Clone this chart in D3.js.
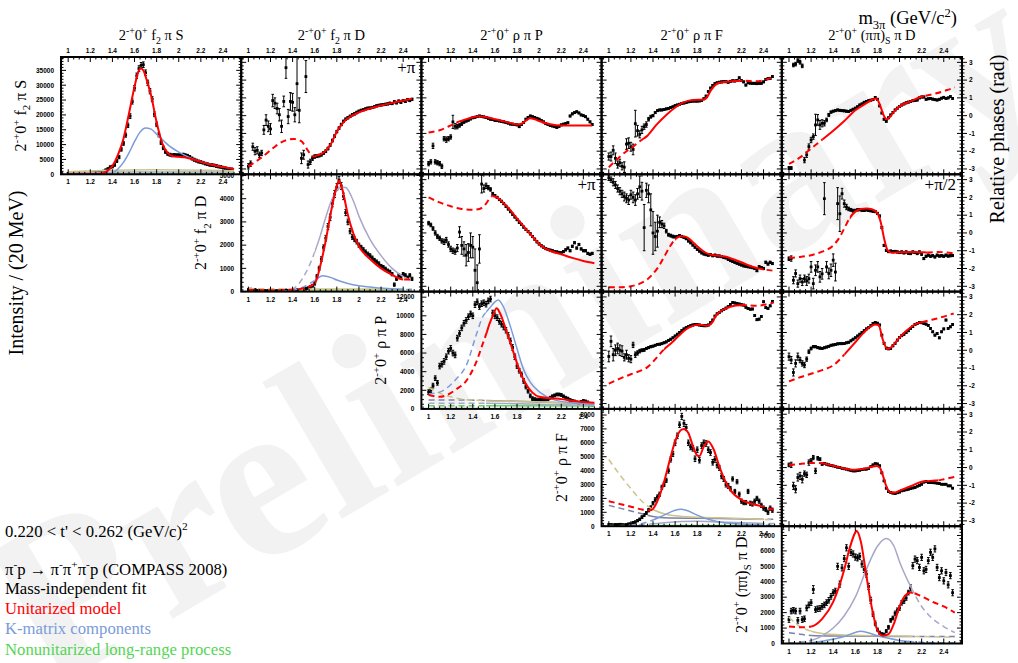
<!DOCTYPE html>
<html><head><meta charset="utf-8">
<script src="https://cdn.jsdelivr.net/npm/d3@7"></script>
<style>body{margin:0;background:#fff}svg{display:block}text{white-space:pre}</style>
</head><body><svg id="c" width="1018" height="663"></svg>
<script>
// ---------------- DATA ----------------
const mass = [1.00,1.02,1.04,1.06,1.08,1.10,1.12,1.14,1.16,1.18,1.20,1.22,1.24,1.26,1.28,1.30,1.32,1.34,1.36,1.38,1.40,1.42,1.44,1.46,1.48,1.50,1.52,1.54,1.56,1.58,1.60,1.62,1.64,1.66,1.68,1.70,1.72,1.74,1.76,1.78,1.80,1.82,1.84,1.86,1.88,1.90,1.92,1.94,1.96,1.98,2.00,2.02,2.04,2.06,2.08,2.10,2.12,2.14,2.16,2.18,2.20,2.22,2.24,2.26,2.28,2.30,2.32,2.34,2.36,2.38,2.40,2.42,2.44,2.46,2.48];
const xTickLabels = ["1","1.2","1.4","1.6","1.8","2","2.2","2.4"];
const phaseTickLabels = ["3","2","1","0","-1","-2","-3"];

// intensities
const intS = [300,400,500,400,300,300,200,200,200,300, 300,400,500,500,600,800,1000,1400,1800,2400, 2600,3200,4500,5800,8400,10400,13200,16500,19600,24500, 29000,33200,35600,36700,36900,34200,30800,28000,25300,20200, 16800,13300,10700,8900,7600,6900,6600,6400,6500,6400, 6400,6500,6600,6400,6200,5800,5300,4900,4600,4300, 4100,3900,3600,3400,3200,3100,3000,2800,2600,2500, 2300,2100,1900,1800,1700];
const errS = [300,300,300,300,300,300,300,300,300,300, 300,300,300,300,300,350,350,400,400,450, 450,500,500,550,600,650,700,750,800,850, 900,900,950,950,950,950,900,900,850,800, 750,700,650,600,550,500,500,500,500,500, 500,500,500,500,500,500,500,500,500,500, 450,450,450,450,450,450,450,450,450,450, 400,400,400,400,400];
const intFD = [80,100,60,80,50,60,40,50,30,40, 30,50,20,30,40,20,30,60,50,40, 60,50,70,60,80,100,120,150,200,250, 350,650,1000,1400,1900,2300,2800,3200,3800,4200, 4500,4800,4550,4100,3400,3000,2600,2350,2250,2150, 2000,1900,1800,1700,1620,1550,1450,1350,1280,1200, 1100,1050,980,900,850,750,300,550,700,650, 750,700,600,700,550];
const errFD = [40,40,40,40,40,40,40,40,40,40, 40,40,40,40,40,40,40,40,40,40, 40,40,40,40,40,50,50,50,60,60, 70,80,90,100,110,120,130,140,150,150, 150,150,150,140,130,120,110,100,100,100, 90,90,90,90,80,80,80,80,80,80, 70,70,70,70,70,70,70,70,70,70, 70,70,70,70,70];
const intRP = [1800,2000,2500,3300,2800,4600,4800,5100,5600,6200, 6500,6000,5800,7600,8100,8700,9200,9500,9900,10200, 10000,11200,11500,11000,11300,11400,11250,11600,11800,10300, 10000,9800,9400,9100,8800,8450,7900,7300,6600,5600, 4600,4100,3700,3000,2400,1900,1400,1100,1000,950, 950,950,1000,1020,1050,1200,1350,1450,1550,1550, 1500,1350,1200,1100,950,850,800,700,650,750, 850,800,700,500,450];
const errRP = [250,250,250,250,250,300,300,300,300,300, 300,300,300,300,300,300,300,300,300,300, 300,300,300,300,300,300,300,300,300,300, 300,300,300,300,300,300,300,300,300,300, 250,250,250,250,250,200,200,200,200,200, 150,150,150,150,150,150,150,150,150,150, 150,150,150,150,150,150,150,150,150,150, 150,150,150,150,150];
const intRF = [100,100,80,100,100,120,100,80,100,150, 150,250,300,400,500,650,800,950,1150,1350, 1650,1900,2100,2300,2800,3000,3300,4000,4800,5200, 6000,6500,7300,7900,7400,7100,6000,5700,5600,4850, 5500,4750,5800,6000,5950,5500,5300,4600,4800,4400, 4200,3600,3400,3000,2900,2700,3400,2500,3200,2300, 1800,1700,1700,2500,1650,1600,1800,2000,1800,1500, 1300,1200,1000,1300,1150];
const errRF = [80,80,80,80,80,80,80,80,80,80, 80,80,80,80,80,100,100,100,120,120, 120,150,150,150,150,150,150,180,180,180, 200,200,200,220,220,220,200,200,200,200, 200,200,200,200,200,200,200,200,200,200, 180,180,180,180,180,150,150,150,150,150, 150,150,150,150,150,150,150,150,150,150, 150,150,150,150,150];
const intPD = [1550,2100,2150,2100,1500,2100,1550,1600,2300,2500, 2650,3500,2200,2250,2270,2400,2500,2650,2800,3050, 3300,3400,5000,3850,4900,5500,6200,5000,5900,5800, 5600,5550,5650,5150,4800,4500,3700,2800,1900,1300, 900,700,600,570,800,1050,1500,1650,1950,2150, 2300,2640,2750,2950,3300,3600,5040,5470,5370,4930, 5580,4710,4800,5370,5910,5580,6130,4930,4270,4710, 4060,4600,3800,4400,3290];
const errPD = [180,180,180,180,180,180,180,180,180,180, 180,250,180,180,180,180,180,180,180,180, 180,180,200,200,200,200,200,200,200,200, 200,200,200,200,200,200,200,200,150,150, 100,100,100,100,100,120,120,120,150,150, 150,150,150,150,150,200,200,200,200,200, 200,200,200,200,200,200,200,200,200,200, 200,200,200,200,200];

// relative phases (rad)
const phS_FD = [-2.85,-2.7,-1.75,-2.0,-1.95,-2.2,-2.1,-0.8,-0.25,-0.6, -0.75,0.85,0.7,0.4,0.05,-0.6,0.8,2.7,-0.05,0.8, 0.75,0.05,1.8,0.3,-2.4,-2.2,2.2,-2.75,-2.6,-2.4, -2.3,-2.28,-2.25,-2.2,-2.1,-2.0,-1.85,-1.65,-1.4,-1.15, -0.9,-0.7,-0.5,-0.32,-0.2,-0.12,-0.04,0.05,0.1,0.18, 0.25,0.3,0.33,0.38,0.42,0.43,0.46,0.5,0.55,0.58, 0.6,0.62,0.64,0.66,0.7,0.68,0.78,0.72,0.82,0.75, 0.85,0.8,0.9,0.85,0.92];
const ephS_FD = [0.15,0.15,0.2,0.2,0.2,0.15,0.15,0.25,0.3,0.3, 0.3,0.35,0.3,0.3,0.35,0.35,0.3,0.6,0.4,0.5, 0.5,0.4,1.5,0.7,0.3,0.25,0.9,0.2,0.15,0.12, 0.1,0.08,0.08,0.08,0.08,0.08,0.08,0.08,0.08,0.08, 0.07,0.07,0.07,0.07,0.07,0.07,0.07,0.07,0.07,0.07, 0.06,0.06,0.06,0.06,0.06,0.06,0.06,0.06,0.06,0.06, 0.06,0.06,0.06,0.06,0.06,0.06,0.06,0.06,0.06,0.06, 0.06,0.06,0.06,0.06,0.06];
const phS_RP = [-2.7,-2.6,-1.7,-2.6,-2.65,-2.7,-2.85,-1.3,-1.35,-1.3, -1.2,-0.35,-0.6,-0.62,-0.55,-0.45,-0.35,-0.3,-0.25,-0.18, -0.12,-0.09,-0.05,-0.02,-0.04,-0.07,-0.1,-0.15,-0.2,-0.22, -0.26,-0.28,-0.3,-0.32,-0.35,-0.38,-0.42,-0.47,-0.48,-0.5, -0.52,-0.62,-0.5,-0.38,-0.2,-0.1,-0.02,-0.06,-0.1,-0.15, -0.2,-0.28,-0.35,-0.45,-0.5,-0.55,-0.58,-0.62,-0.66,-0.6, -0.52,-0.48,-0.45,-0.4,-0.02,0.1,0.17,0.22,0.15,0.04, 0.0,-0.06,-0.2,-0.35,-0.5];
const ephS_RP = [0.12,0.12,0.15,0.12,0.12,0.12,0.12,0.12,0.15,0.12, 0.12,0.37,0.15,0.12,0.1,0.1,0.08,0.06,0.06,0.06, 0.05,0.05,0.05,0.05,0.05,0.05,0.05,0.05,0.05,0.05, 0.05,0.05,0.05,0.05,0.05,0.05,0.05,0.05,0.05,0.05, 0.05,0.05,0.05,0.05,0.05,0.05,0.05,0.05,0.05,0.05, 0.05,0.05,0.05,0.05,0.05,0.05,0.05,0.05,0.05,0.05, 0.05,0.05,0.05,0.05,0.05,0.05,0.05,0.05,0.05,0.05, 0.05,0.05,0.05,0.05,0.05];
const phS_RF = [-2.3,-2.3,-1.95,-2.4,-2.75,-2.65,-2.85,-2.9,-1.6,-1.55, -1.75,-1.9,-0.45,-0.85,-1.05,-0.8,-0.62,-0.5,-0.2,-0.06, 0.0,0.17,0.28,0.32,0.32,0.35,0.38,0.41,0.46,0.5, 0.56,0.6,0.64,0.68,0.71,0.74,0.78,0.8,0.82,0.82, 0.82,0.83,0.86,0.95,1.1,1.35,1.55,1.7,1.8,1.85, 1.88,1.9,1.91,1.91,1.88,1.93,1.96,1.95,1.98,2.13, 1.97,1.9,1.72,1.85,1.83,1.82,1.82,1.8,1.82,1.82, 1.9,2.04,2.08,2.1,2.2];
const ephS_RF = [0.2,0.25,0.25,0.3,0.2,0.2,0.2,0.3,0.3,0.3, 0.25,0.3,0.75,0.3,0.2,0.2,0.15,0.15,0.1,0.08, 0.06,0.05,0.05,0.05,0.05,0.05,0.05,0.05,0.05,0.05, 0.05,0.05,0.05,0.05,0.05,0.05,0.05,0.05,0.05,0.05, 0.05,0.05,0.05,0.05,0.05,0.05,0.05,0.05,0.05,0.05, 0.05,0.05,0.05,0.05,0.05,0.05,0.05,0.05,0.05,0.05, 0.05,0.05,0.05,0.05,0.05,0.05,0.05,0.05,0.05,0.05, 0.05,0.05,0.05,0.05,0.05];
const phS_PD = [-2.95,-2.95,2.85,2.9,3.1,3.0,2.8,-2.5,-2.2,-1.74, -1.37,-1.18,-0.52,-0.24,-0.52,-0.43,-0.43,-0.24,0.04,0.2, 0.25,0.28,0.32,0.3,0.28,0.27,0.25,0.23,0.3,0.36, 0.42,0.5,0.6,0.66,0.75,0.8,0.84,0.87,0.9,1.02, 0.92,0.55,0.15,-0.2,-0.32,-0.12,0.04,0.18,0.32,0.42, 0.52,0.6,0.66,0.72,0.76,0.8,0.84,0.86,0.88,1.0, 1.05,1.05,0.92,0.95,0.97,0.93,0.9,0.88,0.92,0.98, 1.03,0.97,1.0,1.07,0.97];
const ephS_PD = [0.08,0.08,0.1,0.1,0.1,0.1,0.1,0.15,0.15,0.15, 0.15,0.15,0.6,0.3,0.25,0.2,0.15,0.1,0.08,0.06, 0.05,0.05,0.05,0.05,0.05,0.05,0.05,0.05,0.05,0.05, 0.05,0.05,0.05,0.05,0.05,0.05,0.05,0.05,0.05,0.05, 0.05,0.05,0.05,0.05,0.05,0.05,0.05,0.05,0.05,0.05, 0.05,0.05,0.05,0.05,0.05,0.05,0.05,0.05,0.05,0.05, 0.05,0.05,0.05,0.05,0.05,0.05,0.05,0.05,0.05,0.05, 0.05,0.05,0.05,0.05,0.05];
const phFD_RP = [0.55,0.45,0.25,0.0,-0.2,-0.3,-0.45,-0.5,-0.4,-0.65, -0.9,-1.0,-1.05,-0.85,0.05,-0.7,-0.9,-1.25,-1.1,-0.7, -0.8,-2.1,-2.8,-0.9,2.75,2.5,2.65,2.55,2.45,2.2, 2.1,2.0,1.88,1.78,1.65,1.5,1.35,1.2,1.05,0.9, 0.75,0.6,0.48,0.33,0.2,0.08,-0.05,-0.2,-0.35,-0.5, -0.62,-0.72,-0.8,-0.88,-0.93,-0.97,-1.0,-1.05,-1.07,-1.1, -1.12,-1.05,-0.95,-0.85,-1.0,-0.75,-0.55,-0.85,-0.65,-0.9, -1.0,-1.0,-1.15,-1.2,-1.15];
const ephFD_RP = [0.1,0.1,0.1,0.12,0.12,0.12,0.12,0.15,0.15,0.15, 0.15,0.15,0.15,0.2,0.3,0.5,0.4,0.6,0.5,0.7, 0.6,1.2,1.0,0.8,0.5,0.2,0.15,0.12,0.1,0.08, 0.06,0.06,0.06,0.06,0.06,0.06,0.06,0.06,0.06,0.06, 0.06,0.06,0.06,0.06,0.06,0.06,0.06,0.06,0.06,0.06, 0.06,0.06,0.06,0.06,0.06,0.06,0.06,0.06,0.06,0.06, 0.06,0.06,0.06,0.06,0.06,0.06,0.06,0.06,0.06,0.06, 0.06,0.06,0.06,0.06,0.06];
const phFD_RF = [3.1,3.0,2.85,2.7,2.5,2.35,2.2,2.05,1.95,1.85, 2.15,2.0,1.85,2.2,2.6,2.35,0.3,2.4,2.2,1.3, 0.0,-0.2,0.1,0.6,0.5,0.4,0.1,-0.1,-0.15,-0.2, -0.22,-0.2,-0.15,-0.2,-0.25,-0.32,-0.45,-0.55,-0.68,-0.8, -0.92,-1.02,-1.12,-1.18,-1.22,-1.25,-1.22,-1.28,-1.25,-1.3, -1.3,-1.33,-1.38,-1.4,-1.48,-1.55,-1.6,-1.65,-1.7,-1.75, -1.8,-1.85,-1.87,-1.9,-1.92,-1.95,-2.0,-2.12,-1.9,-1.95, -2.0,-1.65,-1.75,-1.65,-1.72];
const ephFD_RF = [0.15,0.15,0.2,0.2,0.2,0.2,0.2,0.25,0.25,0.25, 0.25,0.3,0.3,0.3,0.6,0.5,1.3,0.4,0.5,0.9, 1.2,0.8,0.9,0.3,0.2,0.15,0.1,0.08,0.08,0.08, 0.06,0.06,0.06,0.06,0.06,0.06,0.06,0.06,0.06,0.06, 0.06,0.06,0.06,0.06,0.06,0.06,0.06,0.06,0.06,0.06, 0.06,0.06,0.06,0.06,0.06,0.06,0.06,0.06,0.06,0.06, 0.06,0.06,0.06,0.06,0.06,0.06,0.06,0.06,0.06,0.06, 0.06,0.06,0.06,0.06,0.06];
const phFD_PD = [-1.45,-1.44,-2.66,-2.28,-2.85,-2.57,-2.76,-2.57,-2.7,-2.57, -1.91,-2.85,-2.1,-1.91,-2.47,-2.3,1.93,-1.91,-2.28,-2.1, -1.53,-2.2,1.65,1.08,2.21,1.65,1.46,1.35,1.3,1.25, 1.27,1.3,1.31,1.28,1.27,1.3,1.27,1.25,1.22,1.2, 1.1,0.95,0.3,-0.7,-0.98,-1.05,-1.02,-1.05,-1.04,-1.07, -1.1,-1.07,-1.12,-1.07,-1.14,-1.16,-1.07,-1.1,-1.16,-1.07, -1.2,-1.44,-1.31,-1.25,-1.31,-1.28,-1.35,-1.25,-1.3,-1.28, -1.31,-1.25,-1.3,-1.28,-1.27];
const ephFD_PD = [0.1,0.15,0.2,0.2,0.2,0.2,0.2,0.2,0.25,0.25, 0.3,0.3,0.3,0.3,0.3,0.3,0.9,0.3,0.3,0.35, 0.35,0.5,0.9,1.0,0.3,0.2,0.15,0.1,0.08,0.08, 0.06,0.06,0.06,0.06,0.06,0.06,0.06,0.06,0.06,0.06, 0.06,0.06,0.06,0.06,0.06,0.06,0.06,0.06,0.06,0.06, 0.06,0.06,0.06,0.06,0.06,0.06,0.06,0.06,0.06,0.06, 0.06,0.06,0.06,0.06,0.06,0.06,0.06,0.06,0.06,0.06, 0.06,0.06,0.06,0.06,0.06];
const phRP_RF = [-0.35,0.5,-0.25,0.0,0.1,0.0,-0.05,-0.4,-0.25,-0.45, -0.5,0.3,-0.25,-0.15,-0.05,0.0,0.02,0.1,0.15,0.2, 0.23,0.28,0.33,0.34,0.37,0.42,0.47,0.55,0.62,0.7, 0.8,0.9,1.0,1.1,1.2,1.27,1.33,1.38,1.42,1.45, 1.44,1.42,1.39,1.38,1.38,1.42,1.55,1.7,1.92,2.05, 2.13,2.22,2.3,2.37,2.45,2.58,2.68,2.66,2.63,2.6, 2.56,2.54,2.42,2.35,2.31,2.32,1.95,1.72,1.75,1.9, 2.73,2.4,2.35,2.5,2.75];
const ephRP_RF = [0.3,0.3,0.35,0.3,0.3,0.3,0.3,0.2,0.25,0.2, 0.2,0.15,0.15,0.12,0.1,0.08,0.08,0.06,0.06,0.06, 0.05,0.05,0.05,0.05,0.05,0.05,0.05,0.05,0.05,0.05, 0.05,0.05,0.05,0.05,0.05,0.05,0.05,0.05,0.05,0.05, 0.05,0.05,0.05,0.05,0.05,0.05,0.05,0.05,0.05,0.05, 0.05,0.05,0.05,0.05,0.05,0.05,0.05,0.05,0.05,0.05, 0.05,0.05,0.05,0.05,0.05,0.05,0.05,0.05,0.05,0.05, 0.05,0.05,0.05,0.05,0.05];
const phRP_PD = [-0.36,-0.55,-1.25,-0.74,-0.36,-0.55,-0.74,-0.83,-0.5,-0.08, 0.1,0.2,0.2,0.15,0.12,0.1,0.14,0.18,0.22,0.28, 0.3,0.33,0.36,0.37,0.37,0.38,0.42,0.45,0.53,0.62, 0.7,0.8,0.9,1.0,1.1,1.2,1.27,1.38,1.5,1.56, 1.52,1.42,0.85,0.39,0.12,0.08,0.1,0.25,0.39,0.57, 0.72,0.82,0.9,1.0,1.1,1.23,1.33,1.45,1.51,1.56, 1.55,1.51,1.47,1.4,1.23,1.04,0.85,0.94,0.7,1.04, 1.2,1.7,1.23,1.32,1.45];
const ephRP_PD = [0.2,0.2,0.2,0.2,0.2,0.15,0.15,0.15,0.12,0.1, 0.08,0.06,0.06,0.06,0.06,0.05,0.05,0.05,0.05,0.05, 0.05,0.05,0.05,0.05,0.05,0.05,0.05,0.05,0.05,0.05, 0.05,0.05,0.05,0.05,0.05,0.05,0.05,0.05,0.05,0.05, 0.05,0.05,0.05,0.05,0.05,0.05,0.05,0.05,0.05,0.05, 0.05,0.05,0.05,0.05,0.05,0.05,0.05,0.05,0.05,0.05, 0.05,0.05,0.05,0.05,0.05,0.05,0.05,0.05,0.05,0.05, 0.05,0.05,0.05,0.05,0.05];
const phRF_PD = [0.15,0.15,-1.03,-1.22,-0.56,-0.47,-0.66,-0.34,-0.41,0.28, 0.38,0.56,-0.19,0.52,0.47,0.19,0.23,0.19,0.15,0.12, 0.09,0.05,0.02,0.0,-0.04,-0.07,-0.09,-0.13,-0.16,-0.19, -0.19,-0.17,-0.15,-0.11,-0.09,-0.09,-0.05,0.05,0.15,0.22, 0.2,0.1,-0.3,-0.75,-1.16,-1.35,-1.4,-1.44,-1.46,-1.42, -1.38,-1.31,-1.28,-1.25,-1.22,-1.18,-1.15,-1.12,-1.05,-1.0, -0.94,-0.82,-0.79,-0.84,-0.84,-0.85,-0.86,-0.88,-0.9,-0.94, -0.94,-0.94,-1.03,-1.03,-1.16];
const ephRF_PD = [0.1,0.15,0.2,0.2,0.2,0.2,0.2,0.15,0.15,0.15, 0.12,0.12,0.15,0.1,0.08,0.06,0.05,0.05,0.05,0.05, 0.04,0.04,0.04,0.04,0.04,0.04,0.04,0.04,0.04,0.04, 0.04,0.04,0.04,0.04,0.04,0.04,0.04,0.04,0.04,0.04, 0.04,0.04,0.04,0.04,0.04,0.04,0.04,0.04,0.04,0.04, 0.04,0.04,0.04,0.04,0.04,0.04,0.04,0.04,0.04,0.04, 0.04,0.04,0.04,0.04,0.04,0.04,0.04,0.04,0.04,0.04, 0.04,0.04,0.04,0.04,0.04];

// model curves [mass, value]
const S_red = [[1.0,50],[1.2,80],[1.3,200],[1.35,1000],[1.40,2800],[1.45,6500],[1.50,12000],[1.55,20500],[1.60,29500],[1.63,34000],[1.655,35600],[1.68,35000],[1.70,33000],[1.75,26500],[1.80,17500],[1.85,10500],[1.90,7200],[1.95,6100],[2.00,5900],[2.05,5700],[2.10,5300],[2.20,4200],[2.30,3200],[2.40,2500],[2.50,1800]];
const S_blue = [[1.3,0],[1.35,100],[1.4,500],[1.45,1800],[1.5,4000],[1.55,7200],[1.6,11000],[1.65,14200],[1.7,15600],[1.75,15200],[1.8,13500],[1.85,11800],[1.9,10000],[2.0,7500],[2.1,5600],[2.2,4200],[2.3,3200],[2.4,2500],[2.5,1800]];
const S_khaki = [[1.0,900],[1.3,1300],[1.8,1500],[2.5,1200]];
const S_gray = [[1.0,600],[1.5,800],[2.5,800]];
const S_green = [[1.0,200],[2.5,300]];

const FD_red = [[1.0,80],[1.2,60],[1.4,80],[1.5,150],[1.6,350],[1.65,1100],[1.7,2200],[1.75,3500],[1.8,4550],[1.82,4780],[1.85,4400],[1.9,3300],[1.95,2500],[2.0,1950],[2.1,1400],[2.2,1000],[2.3,720],[2.4,520],[2.48,520]];
const FD_gray = [[1.3,0],[1.4,100],[1.45,300],[1.5,650],[1.55,1100],[1.6,1700],[1.65,2400],[1.7,3200],[1.75,3900],[1.8,4350],[1.85,4500],[1.88,4480],[1.95,3900],[2.0,3250],[2.1,2250],[2.2,1550],[2.3,1000],[2.4,650],[2.48,450]];
const FD_blue = [[1.3,0],[1.4,50],[1.5,200],[1.6,480],[1.67,680],[1.75,600],[1.8,500],[1.9,350],[2.0,250],[2.2,150],[2.4,100],[2.48,80]];
const FD_khaki = [[1.0,120],[1.6,100],[2.48,100]];
const FD_green = [[1.0,30],[2.48,30]];

const RP_red = [[1.0,1500],[1.1,1300],[1.2,1700],[1.25,2100],[1.34,3000],[1.43,5000],[1.49,7000],[1.52,8000],[1.55,9100],[1.585,10100],[1.615,10800],[1.645,10300],[1.7,8500],[1.767,6100],[1.83,3900],[1.89,2470],[1.94,1750],[2.0,1300],[2.1,1150],[2.2,1050],[2.31,840],[2.4,750],[2.5,650]];
const RP_blue = [[1.0,1600],[1.1,1800],[1.2,2600],[1.25,3200],[1.34,4650],[1.43,7900],[1.49,9900],[1.52,10400],[1.55,10800],[1.6,11500],[1.63,11700],[1.676,11000],[1.736,9000],[1.8,6470],[1.857,4300],[1.92,2840],[2.01,1750],[2.13,1000],[2.31,650],[2.5,470]];
const RP_khaki = [[1.0,2300],[1.1,1700],[1.2,1300],[1.3,1050],[1.4,950],[1.52,880],[1.8,800],[2.2,700],[2.5,600]];
const RP_slate = [[1.0,950],[1.3,950],[1.52,900],[2.0,750],[2.5,550]];
const RP_gray = [[1.0,600],[1.52,600],[2.0,500],[2.5,400]];
const RP_green = [[1.0,350],[1.52,350],[2.5,300]];

const RF_red = [[1.0,1800],[1.1,1600],[1.2,1400],[1.3,1200],[1.38,1150],[1.4,1250],[1.45,2000],[1.5,3200],[1.55,4700],[1.6,6100],[1.65,6900],[1.68,7000],[1.72,6700],[1.76,5800],[1.8,5100],[1.82,5050],[1.86,5750],[1.9,6100],[1.95,5500],[2.0,4300],[2.05,3300],[2.1,2600],[2.2,1900],[2.3,1600],[2.4,1400],[2.5,1150]];
const RF_khaki = [[1.0,4800],[1.1,3700],[1.2,2700],[1.3,1800],[1.4,1200],[1.5,900],[1.6,750],[1.8,650],[2.0,600],[2.2,550],[2.4,480],[2.5,450]];
const RF_slate = [[1.0,1500],[1.1,1300],[1.2,1100],[1.3,900],[1.4,700],[1.5,600],[2.0,550],[2.4,500],[2.5,500]];
const RF_blue = [[1.2,50],[1.3,200],[1.4,450],[1.5,800],[1.6,1150],[1.65,1220],[1.7,1150],[1.8,800],[1.9,500],[2.0,300],[2.2,150],[2.4,80],[2.5,60]];
const RF_gray = [[1.0,0],[1.3,100],[1.5,250],[1.8,350],[2.0,300],[2.4,200],[2.5,200]];
const RF_green = [[1.0,50],[2.5,50]];

const PD_red = [[1.0,1100],[1.1,1050],[1.2,1100],[1.3,1600],[1.4,2700],[1.5,4800],[1.55,6200],[1.6,7200],[1.61,7300],[1.65,6600],[1.7,4400],[1.75,2300],[1.8,850],[1.85,500],[1.9,600],[1.95,1300],[2.0,2400],[2.05,3100],[2.1,3300],[2.2,3050],[2.3,2700],[2.4,2400],[2.5,2000]];
const PD_gray = [[1.0,50],[1.1,100],[1.2,200],[1.3,500],[1.4,1000],[1.5,1800],[1.6,3000],[1.7,4800],[1.8,6300],[1.88,6800],[1.95,6300],[2.0,5300],[2.1,3700],[2.2,2400],[2.3,1600],[2.4,1100],[2.5,700]];
const PD_khaki = [[1.0,1700],[1.1,1100],[1.2,800],[1.3,650],[1.5,550],[1.8,500],[2.0,480],[2.2,450],[2.5,400]];
const PD_slate = [[1.0,700],[1.1,600],[1.2,520],[1.5,480],[2.0,450],[2.5,450]];
const PD_blue = [[1.2,50],[1.3,150],[1.5,450],[1.65,800],[1.8,500],[2.0,200],[2.2,80],[2.5,30]];
const PD_green = [[1.0,20],[2.5,20]];

const S_FD_red = [[1.0,-2.85],[1.05,-2.65],[1.11,-2.4],[1.22,-1.84],[1.31,-1.46],[1.41,-1.31],[1.475,-1.42],[1.535,-1.93],[1.565,-2.2],[1.58,-2.3],[1.62,-2.25],[1.66,-2.15],[1.7,-1.97],[1.75,-1.55],[1.8,-0.9],[1.85,-0.45],[1.9,-0.15],[1.95,0.04],[2.0,0.18],[2.1,0.4],[2.2,0.57],[2.3,0.72],[2.4,0.85],[2.48,0.95]];
const S_RP_red = [[1.0,-0.95],[1.1,-0.82],[1.2,-0.55],[1.25,-0.4],[1.3,-0.28],[1.35,-0.18],[1.4,-0.09],[1.45,-0.04],[1.5,-0.06],[1.55,-0.12],[1.6,-0.2],[1.65,-0.27],[1.7,-0.35],[1.75,-0.43],[1.8,-0.5],[1.84,-0.46],[1.88,-0.28],[1.92,-0.15],[1.96,-0.2],[2.0,-0.3],[2.1,-0.48],[2.2,-0.55],[2.3,-0.55],[2.4,-0.55],[2.48,-0.55]];
const S_RF_red = [[1.0,-2.9],[1.06,-2.55],[1.12,-2.2],[1.16,-2.0],[1.22,-1.74],[1.3,-1.35],[1.34,-1.18],[1.43,-0.52],[1.52,0.04],[1.61,0.5],[1.67,0.73],[1.76,0.88],[1.85,0.9],[1.88,0.97],[1.925,1.44],[1.97,1.76],[2.02,1.87],[2.09,1.92],[2.15,1.95],[2.21,1.97],[2.33,1.93],[2.42,2.02],[2.5,2.2]];
const S_PD_red = [[1.0,-2.72],[1.1,-2.35],[1.2,-1.85],[1.3,-1.35],[1.4,-0.85],[1.5,-0.3],[1.6,0.3],[1.7,0.7],[1.76,0.92],[1.79,0.97],[1.82,0.65],[1.855,0.04],[1.885,-0.2],[1.915,-0.06],[1.95,0.22],[2.0,0.52],[2.1,0.8],[2.19,1.05],[2.22,1.1],[2.31,1.22],[2.43,1.44],[2.5,1.59]];
const FD_RP_red = [[1.0,2.0],[1.1,1.72],[1.2,1.5],[1.3,1.35],[1.4,1.3],[1.46,1.35],[1.52,1.65],[1.56,2.0],[1.58,2.08],[1.6,2.05],[1.65,1.85],[1.7,1.55],[1.75,1.2],[1.8,0.82],[1.85,0.45],[1.9,0.08],[1.95,-0.28],[2.0,-0.62],[2.05,-0.85],[2.1,-1.0],[2.2,-1.2],[2.3,-1.4],[2.4,-1.58],[2.5,-1.7]];
const FD_RF_red = [[1.0,-3.05],[1.1,-3.05],[1.2,-3.0],[1.25,-2.92],[1.3,-2.8],[1.35,-2.6],[1.4,-2.3],[1.45,-1.9],[1.5,-1.35],[1.55,-0.8],[1.6,-0.35],[1.65,-0.18],[1.7,-0.22],[1.75,-0.45],[1.8,-0.75],[1.85,-1.0],[1.9,-1.18],[1.95,-1.25],[2.0,-1.28],[2.05,-1.33],[2.1,-1.42],[2.2,-1.65],[2.3,-1.9],[2.4,-2.05],[2.48,-2.12]];
const FD_PD_red = [[1.0,-1.4],[1.1,-1.35],[1.2,-1.25],[1.3,-1.05],[1.4,-0.7],[1.45,-0.32],[1.5,0.25],[1.55,0.85],[1.6,1.2],[1.65,1.35],[1.7,1.37],[1.75,1.33],[1.8,1.1],[1.83,0.6],[1.86,-0.3],[1.89,-0.95],[1.93,-1.12],[2.0,-1.08],[2.1,-1.07],[2.2,-1.08],[2.25,-1.1],[2.35,-1.07],[2.5,-1.16]];
const RP_RF_red = [[1.0,-1.88],[1.1,-1.6],[1.2,-1.35],[1.3,-1.12],[1.35,-0.95],[1.4,-0.65],[1.45,-0.3],[1.5,0.05],[1.55,0.32],[1.6,0.6],[1.65,0.92],[1.7,1.18],[1.75,1.35],[1.8,1.44],[1.85,1.42],[1.88,1.38],[1.91,1.42],[1.94,1.6],[1.97,1.95],[2.0,2.15],[2.05,2.33],[2.1,2.45],[2.15,2.52],[2.22,2.54],[2.25,2.53],[2.34,2.5],[2.42,2.58],[2.49,2.68]];
const RP_PD_red = [[1.0,-1.75],[1.1,-1.52],[1.2,-1.32],[1.3,-1.12],[1.4,-0.85],[1.47,-0.46],[1.5,-0.25],[1.55,0.1],[1.6,0.45],[1.67,0.95],[1.72,1.25],[1.78,1.45],[1.81,1.42],[1.85,0.57],[1.89,0.07],[1.93,0.2],[1.98,0.57],[2.07,1.14],[2.16,1.51],[2.22,1.6],[2.25,1.65],[2.34,1.79],[2.49,2.07]];
const RF_PD_red = [[1.0,0.15],[1.1,0.2],[1.2,0.26],[1.3,0.24],[1.4,0.1],[1.5,-0.05],[1.55,-0.11],[1.6,-0.12],[1.65,-0.09],[1.7,-0.04],[1.75,0.04],[1.79,0.09],[1.82,0.0],[1.85,-0.45],[1.88,-1.05],[1.92,-1.4],[1.96,-1.4],[2.0,-1.3],[2.1,-1.05],[2.2,-0.8],[2.3,-0.74],[2.35,-0.72],[2.4,-0.66],[2.5,-0.53]];

// wave labels
const waveLabels = [
  ['2',['-+','sup'],'0',['+','sup'],' f',['2','sub'],' π S'],
  ['2',['-+','sup'],'0',['+','sup'],' f',['2','sub'],' π D'],
  ['2',['-+','sup'],'0',['+','sup'],' ρ π P'],
  ['2',['-+','sup'],'0',['+','sup'],' ρ π F'],
  ['2',['-+','sup'],'0',['+','sup'],' (ππ)',['S','sub'],' π D']
];

// ---------------- DRAW ----------------
const COL = {red:'#ff0000', blue:'#7b9bd9', gray:'#a7a7c9', khaki:'#cbc58a', slate:'#7d7ea8', green:'#5fd65f'};
const SERIF = "'Liberation Serif','Times New Roman',serif";
const SANS = "'Liberation Sans',Arial,sans-serif";
const svg = d3.select('#c');
const defs = svg.append('defs');
const W = 180.2, H = 117.3, X0 = 61, Y0 = 57;
const xDom = [0.935, 2.565];

function rich(t, parts, fs){
  let cur = 0;
  parts.forEach(p=>{
    const s = typeof p==='string'? p : p[0];
    const k = typeof p==='string'? null : p[1];
    const tgt = k==='sup' ? -0.4*fs : (k==='sub' ? 0.28*fs : 0);
    const ts = t.append('tspan').text(s);
    if (tgt!==cur) ts.attr('dy', tgt-cur);
    if (k) ts.attr('font-size', fs*0.68);
    cur = tgt;
  });
  return t;
}

// watermark
svg.append('text').attr('transform','translate(515,330) rotate(-30.5)')
  .attr('x',0).attr('y',75).attr('text-anchor','middle')
  .attr('font-family',SERIF).attr('font-weight','bold').attr('font-size',228)
  .attr('fill','#f2f2f2').text('Preliminary');

function crv(pts,color,w){return {pts,color,w:w||1.5};}

const panels = [
  {r:0,c:0,kind:'int',yDom:[0,39500],major:5000,minor:1000,vals:intS,errs:errS,fit:[0.9,2.6],
    curves:[crv(S_green,COL.green),crv(S_gray,COL.gray),crv(S_khaki,COL.khaki),crv(S_blue,COL.blue),crv(S_red,COL.red,2)]},
  {r:1,c:1,kind:'int',yDom:[0,5050],major:1000,minor:200,vals:intFD,errs:errFD,fit:[1.6,2.4],
    curves:[crv(FD_green,COL.green),crv(FD_khaki,COL.khaki,2),crv(FD_blue,COL.blue),crv(FD_gray,COL.gray),crv(FD_red,COL.red,2)]},
  {r:2,c:2,kind:'int',yDom:[0,12600],major:2000,minor:500,vals:intRP,errs:errRP,fit:[1.52,2.6],
    curves:[crv(RP_green,COL.green),crv(RP_gray,COL.gray),crv(RP_slate,COL.slate),crv(RP_khaki,COL.khaki),crv(RP_blue,COL.blue),crv(RP_red,COL.red,2)]},
  {r:3,c:3,kind:'int',yDom:[0,8440],major:1000,minor:200,vals:intRF,errs:errRF,fit:[1.4,2.4],
    curves:[crv(RF_green,COL.green),crv(RF_gray,COL.gray),crv(RF_slate,COL.slate),crv(RF_khaki,COL.khaki),crv(RF_blue,COL.blue),crv(RF_red,COL.red,2)]},
  {r:4,c:4,kind:'int',yDom:[0,7600],major:1000,minor:200,vals:intPD,errs:errPD,fit:[1.2,2.12],
    curves:[crv(PD_green,COL.green),crv(PD_slate,COL.slate),crv(PD_khaki,COL.khaki),crv(PD_blue,COL.blue),crv(PD_gray,COL.gray),crv(PD_red,COL.red,2)]},
  {r:0,c:1,kind:'ph',vals:phS_FD,errs:ephS_FD,fit:[1.58,2.6],curves:[crv(S_FD_red,COL.red,2)],note:'+π'},
  {r:0,c:2,kind:'ph',vals:phS_RP,errs:ephS_RP,fit:[1.25,2.6],curves:[crv(S_RP_red,COL.red,2)]},
  {r:0,c:3,kind:'ph',vals:phS_RF,errs:ephS_RF,fit:[1.3,2.21],curves:[crv(S_RF_red,COL.red,2)]},
  {r:0,c:4,kind:'ph',vals:phS_PD,errs:ephS_PD,fit:[1.3,2.22],curves:[crv(S_PD_red,COL.red,2)]},
  {r:1,c:2,kind:'ph',vals:phFD_RP,errs:ephFD_RP,fit:[1.58,2.6],curves:[crv(FD_RP_red,COL.red,2)],note:'+π'},
  {r:1,c:3,kind:'ph',vals:phFD_RF,errs:ephFD_RF,fit:[1.6,2.4],curves:[crv(FD_RF_red,COL.red,2)]},
  {r:1,c:4,kind:'ph',vals:phFD_PD,errs:ephFD_PD,fit:[1.55,2.25],curves:[crv(FD_PD_red,COL.red,2)],note:'+π/2'},
  {r:2,c:3,kind:'ph',vals:phRP_RF,errs:ephRP_RF,fit:[1.5,2.25],curves:[crv(RP_RF_red,COL.red,2)]},
  {r:2,c:4,kind:'ph',vals:phRP_PD,errs:ephRP_PD,fit:[1.5,2.25],curves:[crv(RP_PD_red,COL.red,2)]},
  {r:3,c:4,kind:'ph',vals:phRF_PD,errs:ephRF_PD,fit:[1.3,2.35],curves:[crv(RF_PD_red,COL.red,2)]}
];

panels.forEach(p=>{
  const left = X0 + p.c*W, top = Y0 + p.r*H;
  const x = d3.scaleLinear().domain(xDom).range([left,left+W]);
  const yDom = p.kind==='ph' ? [-3.3,3.3] : p.yDom;
  const y = d3.scaleLinear().domain(yDom).range([top+H, top]);
  const key = 'p'+p.r+p.c;
  defs.append('clipPath').attr('id',key+'a').append('rect').attr('x',left).attr('y',top).attr('width',W).attr('height',H);
  const fx0 = Math.max(left, x(p.fit[0])), fx1 = Math.min(left+W, x(p.fit[1]));
  defs.append('clipPath').attr('id',key+'i').append('rect').attr('x',fx0).attr('y',top-5).attr('width',Math.max(0,fx1-fx0)).attr('height',H+10);
  const co = defs.append('clipPath').attr('id',key+'o');
  co.append('rect').attr('x',left).attr('y',top-5).attr('width',Math.max(0,fx0-left)).attr('height',H+10);
  co.append('rect').attr('x',fx1).attr('y',top-5).attr('width',Math.max(0,left+W-fx1)).attr('height',H+10);

  const g = svg.append('g').attr('clip-path',`url(#${key}a)`);
  const pts = mass.map((m,i)=>({m, v:p.vals[i], e:p.errs[i]}));
  const dg = g.append('g').attr('stroke','#000').attr('stroke-width',1);
  dg.selectAll('line.e').data(pts).join('line').attr('class','e')
    .attr('x1',d=>x(d.m)).attr('x2',d=>x(d.m)).attr('y1',d=>y(d.v-d.e)).attr('y2',d=>y(d.v+d.e));
  dg.selectAll('line.c1').data(pts).join('line').attr('class','c1')
    .attr('x1',d=>x(d.m)-1.3).attr('x2',d=>x(d.m)+1.3).attr('y1',d=>y(d.v-d.e)).attr('y2',d=>y(d.v-d.e));
  dg.selectAll('line.c2').data(pts).join('line').attr('class','c2')
    .attr('x1',d=>x(d.m)-1.3).attr('x2',d=>x(d.m)+1.3).attr('y1',d=>y(d.v+d.e)).attr('y2',d=>y(d.v+d.e));
  g.append('g').selectAll('rect').data(pts).join('rect')
    .attr('x',d=>x(d.m)-1.4).attr('y',d=>y(d.v)-1.4).attr('width',2.8).attr('height',2.8).attr('fill','#000');

  const line = d3.line().x(d=>x(d[0])).y(d=>y(d[1])).curve(d3.curveMonotoneX);
  p.curves.forEach(cv=>{
    g.append('path').attr('d',line(cv.pts)).attr('fill','none').attr('stroke',cv.color)
      .attr('stroke-width',cv.w).attr('clip-path',`url(#${key}i)`);
    g.append('path').attr('d',line(cv.pts)).attr('fill','none').attr('stroke',cv.color)
      .attr('stroke-width',cv.w).attr('stroke-dasharray','6,4').attr('clip-path',`url(#${key}o)`);
  });

  const fr = svg.append('g').attr('stroke','#000');
  const tk = [];
  d3.range(19,52).forEach(i=>{
    const X = x(i*0.05), L = (i%4===0)?5:2.5;
    tk.push([X,top+H,X,top+H-L],[X,top,X,top+L]);
  });
  let yt;
  if (p.kind==='ph') yt = d3.range(-16,17).map(k=>({v:k*0.2, maj:k%5===0}));
  else { const ratio = p.major/p.minor; yt = d3.range(0, Math.floor(yDom[1]/p.minor)+1).map(k=>({v:k*p.minor, maj:k%ratio===0})); }
  yt.forEach(t=>{
    const Y = y(t.v), L = t.maj?5:2.5;
    tk.push([left,Y,left+L,Y],[left+W,Y,left+W-L,Y]);
    if (p.kind==='ph' && p.c===4) tk.push([left+W,Y,left+W+L,Y]);
  });
  fr.selectAll('line').data(tk).join('line').attr('x1',d=>d[0]).attr('y1',d=>d[1]).attr('x2',d=>d[2]).attr('y2',d=>d[3]).attr('stroke-width',1);
  fr.append('rect').attr('x',left).attr('y',top).attr('width',W).attr('height',H).attr('fill','none').attr('stroke-width',2);

  const lab = svg.append('g').attr('font-family',SANS).attr('font-weight','bold').attr('font-size',6.5).attr('fill','#000');
  const xl = xTickLabels.map((s,i)=>({s, v:1+0.2*i}));
  if (p.r===0) lab.selectAll('text.t').data(xl).join('text').attr('class','t').attr('x',d=>x(d.v)).attr('y',top-4).attr('text-anchor','middle').text(d=>d.s);
  if (p.kind==='int') {
    lab.selectAll('text.b').data(xl).join('text').attr('class','b').attr('x',d=>x(d.v)).attr('y',top+H+10).attr('text-anchor','middle').text(d=>d.s);
    lab.selectAll('text.l').data(yt.filter(t=>t.maj)).join('text').attr('class','l').attr('x',left-7).attr('y',d=>y(d.v)+2.3).attr('text-anchor','end').text(d=>d3.format('d')(d.v));
    const tl = svg.append('text').attr('transform',`translate(${left-35},${top+H/2}) rotate(-90)`).attr('text-anchor','middle')
      .attr('font-family',SERIF).attr('font-size',16);
    rich(tl, waveLabels[p.c], 16);
  }
  if (p.kind==='ph' && p.c===4) {
    lab.selectAll('text.r').data(phaseTickLabels).join('text').attr('class','r').attr('x',left+W+7).attr('y',(d,i)=>y(3-i)+2.3).attr('text-anchor','start').text(d=>d);
  }
  if (p.note) svg.append('text').attr('x',left+W-6).attr('y',top+16).attr('text-anchor','end')
    .attr('font-family',SERIF).attr('font-size',17).text(p.note);
});

waveLabels.forEach((w,c)=>{
  const t = svg.append('text').attr('x',X0+c*W+W/2).attr('y',40).attr('text-anchor','middle').attr('font-family',SERIF).attr('font-size',14.5);
  rich(t, w, 14.5);
});
rich(svg.append('text').attr('x',957).attr('y',24).attr('text-anchor','end').attr('font-family',SERIF).attr('font-size',18.5),
  ['m',['3π','sub'],' (GeV/c',['2','sup'],')'],18.5);
svg.append('text').attr('transform','translate(23,273) rotate(-90)').attr('text-anchor','middle').attr('font-family',SERIF).attr('font-size',20).text('Intensity / (20 MeV)');
svg.append('text').attr('transform','translate(1004,139) rotate(-90)').attr('text-anchor','middle').attr('font-family',SERIF).attr('font-size',20).text('Relative phases (rad)');

const LF = 16.7;
const lg = svg.append('g').attr('font-family',SERIF).attr('font-size',LF);
rich(lg.append('text').attr('x',5).attr('y',537), ['0.220 < t\' < 0.262 (GeV/c)',['2','sup']], LF);
rich(lg.append('text').attr('x',5).attr('y',575), ['π',['-','sup'],'p → π',['-','sup'],'π',['+','sup'],'π',['-','sup'],'p (COMPASS 2008)'], LF);
lg.append('text').attr('x',5).attr('y',594).text('Mass-independent fit');
lg.append('text').attr('x',5).attr('y',614).attr('fill',COL.red).text('Unitarized model');
lg.append('text').attr('x',5).attr('y',634).attr('fill',COL.blue).text('K-matrix components');
lg.append('text').attr('x',5).attr('y',655).attr('fill','#55d555').text('Nonunitarized long-range process');
</script></body></html>
